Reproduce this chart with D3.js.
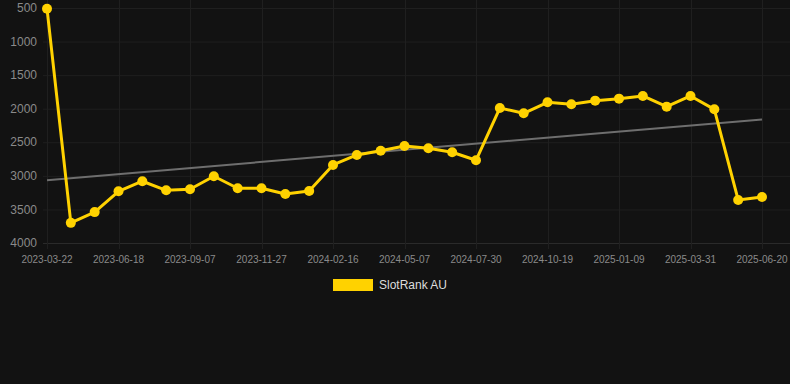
<!DOCTYPE html>
<html lang="en">
<head>
  <meta charset="UTF-8" />
  <title>SlotRank AU</title>
  <style>
  html, body {
    margin: 0;
    padding: 0;
    background: #121212;
  }
  body {
    font-family: "Liberation Sans", Arial, sans-serif;
  }
  svg {
    display: block;
  }
  </style>
  <script src="https://d3js.org/d3.v7.min.js"></script>
</head>
<body>
  <div id="chart"></div>
  <script>
    // Dates on the x axis (categorical, one per point)
    const dates = [
      "2023-03-22", "2023-04-20", "2023-05-19", "2023-06-18", "2023-07-15", "2023-08-11",
      "2023-09-07", "2023-10-04", "2023-10-31", "2023-11-27", "2023-12-24", "2024-01-20",
      "2024-02-16", "2024-03-14", "2024-04-10", "2024-05-07", "2024-06-04", "2024-07-02",
      "2024-07-30", "2024-08-26", "2024-09-22", "2024-10-19", "2024-11-15", "2024-12-13",
      "2025-01-09", "2025-02-05", "2025-03-04", "2025-03-31", "2025-04-27", "2025-05-24",
      "2025-06-20"
    ];

    // SlotRank AU rank values
    const ranks = [
      510, 3700, 3540, 3230, 3080, 3215, 3200, 3006, 3185, 3185, 3270,
      3225, 2838, 2689, 2625, 2555, 2590, 2649, 2768, 1990, 2068, 1904,
      1934, 1880, 1850, 1810, 1969, 1810, 2009, 3359, 3314
    ];

    // tick labels
    const yTicks = [500, 1000, 1500, 2000, 2500, 3000, 3500, 4000];
    const xTickLabels = dates.filter((d, i) => i % 3 === 0);

    const seriesName = "SlotRank AU";

    const width = 790;
    const height = 384;
    const margin = { top: 8, right: 28, bottom: 141, left: 47 };

    const svg = d3.select("#chart").append("svg")
      .attr("width", width)
      .attr("height", height);

    svg.append("rect")
      .attr("width", width)
      .attr("height", height)
      .attr("fill", "#121212");

    const x = d3.scalePoint()
      .domain(dates)
      .range([margin.left, width - margin.right]);

    const y = d3.scaleLinear()
      .domain([500, 4000])
      .range([margin.top, height - margin.bottom]);

    // horizontal grid
    svg.append("g")
      .selectAll("line")
      .data(yTicks)
      .enter().append("line")
      .attr("x1", margin.left - 4)
      .attr("x2", width)
      .attr("y1", d => y(d) + 0.5)
      .attr("y2", d => y(d) + 0.5)
      .attr("stroke", d => d === 4000 ? "#2a2a2a" : "#1f1f1f")
      .attr("stroke-width", 1);

    // vertical grid
    svg.append("g")
      .selectAll("line")
      .data(xTickLabels)
      .enter().append("line")
      .attr("x1", d => Math.round(x(d)) + 0.5)
      .attr("x2", d => Math.round(x(d)) + 0.5)
      .attr("y1", 0)
      .attr("y2", y(4000) + 6)
      .attr("stroke", "#1f1f1f")
      .attr("stroke-width", 1);

    // y axis labels
    svg.append("g")
      .selectAll("text")
      .data(yTicks)
      .enter().append("text")
      .attr("x", margin.left - 10)
      .attr("y", d => y(d))
      .attr("dy", "0.35em")
      .attr("text-anchor", "end")
      .attr("fill", "#8a8a8a")
      .attr("font-size", 12)
      .text(d => d);

    // x axis labels
    svg.append("g")
      .selectAll("text")
      .data(xTickLabels)
      .enter().append("text")
      .attr("x", d => x(d))
      .attr("y", y(4000) + 20)
      .attr("text-anchor", "middle")
      .attr("fill", "#8a8a8a")
      .attr("font-size", 10)
      .text(d => d);

    // trend line (least squares on point index)
    const n = ranks.length;
    const meanI = d3.mean(ranks, (d, i) => i);
    const meanV = d3.mean(ranks);
    const slope = d3.sum(ranks, (d, i) => (i - meanI) * (d - meanV)) /
      d3.sum(ranks, (d, i) => (i - meanI) * (i - meanI));
    const intercept = meanV - slope * meanI;

    svg.append("line")
      .attr("x1", x(dates[0]))
      .attr("x2", x(dates[n - 1]))
      .attr("y1", y(intercept))
      .attr("y2", y(intercept + slope * (n - 1)))
      .attr("stroke", "#6e6e6e")
      .attr("stroke-width", 2);

    // series line
    const line = d3.line()
      .x((d, i) => x(dates[i]))
      .y(d => y(d));

    svg.append("path")
      .datum(ranks)
      .attr("d", line)
      .attr("fill", "none")
      .attr("stroke", "#ffd200")
      .attr("stroke-width", 3)
      .attr("stroke-linejoin", "round");

    svg.append("g")
      .selectAll("circle")
      .data(ranks)
      .enter().append("circle")
      .attr("cx", (d, i) => x(dates[i]))
      .attr("cy", d => y(d))
      .attr("r", 5)
      .attr("fill", "#ffd200");

    // legend
    const legend = svg.append("g")
      .attr("transform", "translate(333,279)");

    legend.append("rect")
      .attr("width", 40)
      .attr("height", 12)
      .attr("fill", "#ffd200");

    legend.append("text")
      .attr("x", 46)
      .attr("y", 6)
      .attr("dy", "0.35em")
      .attr("fill", "#dddddd")
      .attr("font-size", 12)
      .text(seriesName);
  </script>
</body>
</html>
